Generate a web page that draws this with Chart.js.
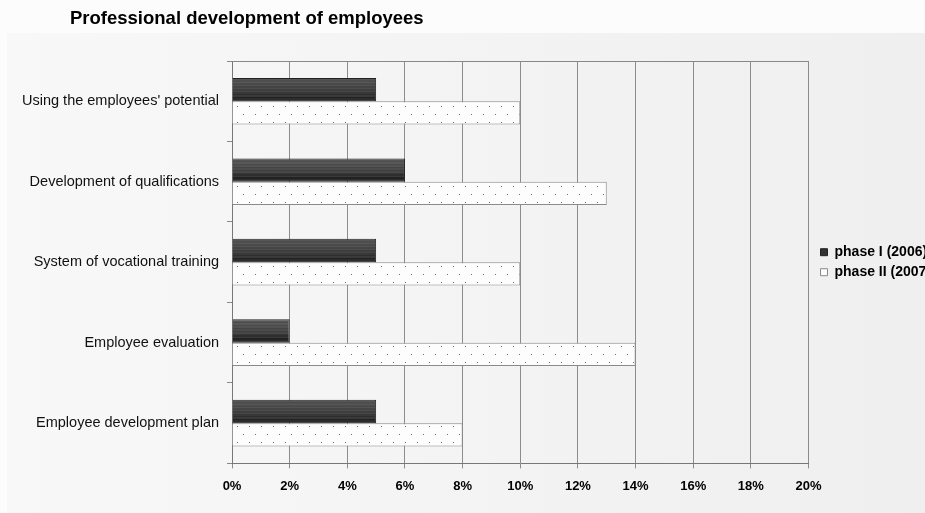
<!DOCTYPE html>
<html>
<head>
<meta charset="utf-8">
<script src="https://cdn.jsdelivr.net/npm/chart.js@4"></script>
<style>
  html, body { margin: 0; padding: 0; background: #fff; overflow: hidden; }
  #wrap { position: absolute; left: 0; top: 0; width: 935px; height: 513px; }
  #titulo {
    position: absolute; left: 70px; top: 7px;
    font: bold 18.5px "Liberation Sans", Arial, sans-serif; color: #000;
  }
</style>
</head>
<body>
<div id="wrap"><canvas id="grafica"></canvas></div>
<div id="titulo">Professional development of employees</div>
<script>
const categorias = [
  "Using the employees' potential",
  'Development of qualifications',
  'System of vocational training',
  'Employee evaluation',
  'Employee development plan'
];
const fase1 = [5, 6, 5, 2, 5];
const fase2 = [10, 13, 10, 14, 8];
const etiquetasSeries = ['phase I (2006)', 'phase II (2007)'];

// relleno rayado oscuro, un degradado por barra
function rellenoOscuro(context) {
  const chart = context.chart;
  const y = chart.scales.y;
  if (!y || context.dataIndex == null) return '#444';
  const c = y.getPixelForValue(context.dataIndex);
  if (!isFinite(c)) return '#444';
  const g = chart.ctx.createLinearGradient(0, c - 24, 0, c);
  const tonos = ['#5c5c5c', '#555', '#4e4e4e', '#585858', '#4a4a4a', '#525252', '#444', '#4c4c4c',
                 '#3e3e3e', '#474747', '#383838', '#2e2e2e', '#3a3a3a', '#222', '#2c2c2c', '#1c1c1c'];
  tonos.forEach((t, i) => {
    g.addColorStop(i / tonos.length, t);
    g.addColorStop((i + 1) / tonos.length - 0.001, t);
  });
  return g;
}

function patronPuntos() {
  const c = document.createElement('canvas');
  c.width = 12; c.height = 16;
  const g = c.getContext('2d');
  g.fillStyle = '#fdfdfd';
  g.fillRect(0, 0, 12, 16);
  g.fillStyle = '#707070';
  g.fillRect(3, 2, 1, 1);
  g.fillRect(9, 10, 1, 1);
  return g.createPattern(c, 'repeat');
}

const fondo = {
  id: 'fondo',
  afterLayout(chart) {
    // leyenda un poco separada del área y centrada en ella
    const lg = chart.legend;
    lg.left += 6;
    lg.top = chart.chartArea.top;
    lg.bottom = chart.chartArea.bottom;
  },
  beforeDraw(chart) {
    const ctx = chart.ctx;
    ctx.save();
    ctx.fillStyle = '#fcfcfc';
    ctx.fillRect(0, 0, chart.width, chart.height);
    const grad = ctx.createLinearGradient(7, 0, 925, 0);
    grad.addColorStop(0, '#f8f8f8');
    grad.addColorStop(1, '#efefef');
    ctx.fillStyle = grad;
    ctx.fillRect(7, 33, chart.width - 7, chart.height - 33);
    ctx.restore();
  },
  afterDatasetsDraw(chart) {
    const a = chart.chartArea;
    const ctx = chart.ctx;
    ctx.save();
    ctx.strokeStyle = '#888';
    ctx.lineWidth = 1;
    ctx.beginPath();
    ctx.moveTo(a.left, Math.round(a.top) + 0.5);
    ctx.lineTo(a.right, Math.round(a.top) + 0.5);
    ctx.stroke();
    ctx.restore();
  }
};

const fuente = '"Liberation Sans", Arial, sans-serif';

new Chart(document.getElementById('grafica').getContext('2d'), {
  type: 'bar',
  data: {
    labels: categorias,
    datasets: [{
      label: etiquetasSeries[0],
      data: fase1,
      backgroundColor: rellenoOscuro,
      borderColor: '#222',
      borderWidth: 1,
      barPercentage: 1,
      categoryPercentage: 0.58
    }, {
      label: etiquetasSeries[1],
      data: fase2,
      backgroundColor: patronPuntos(),
      borderColor: '#8a8a8a',
      borderWidth: 1,
      barPercentage: 1,
      categoryPercentage: 0.58
    }]
  },
  options: {
    indexAxis: 'y',
    responsive: true,
    maintainAspectRatio: false,
    animation: false,
    layout: { padding: { top: 61, bottom: 9, left: 14, right: 0 } },
    plugins: {
      title: { display: false },
      tooltip: { enabled: false },
      legend: {
        position: 'right',
        labels: {
          boxWidth: 7,
          boxHeight: 7,
          padding: 6,
          color: '#000',
          font: { family: fuente, size: 14, weight: 'bold' },
          generateLabels(chart) {
            const items = Chart.defaults.plugins.legend.labels.generateLabels(chart);
            items[0].fillStyle = '#333';
            return items;
          }
        }
      }
    },
    scales: {
      x: {
        min: 0,
        max: 20,
        ticks: {
          stepSize: 2,
          callback: v => v + '%',
          color: '#000',
          padding: 10,
          font: { family: fuente, size: 13, weight: 'bold' }
        },
        grid: { color: '#8c8c8c', tickLength: 5 },
        border: { color: '#777' }
      },
      y: {
        ticks: {
          color: '#111',
          padding: 8,
          font: { family: fuente, size: 14.5 }
        },
        grid: { drawOnChartArea: false, color: '#888', tickLength: 5 },
        border: { color: '#777' }
      }
    }
  },
  plugins: [fondo]
});
</script>
</body>
</html>
